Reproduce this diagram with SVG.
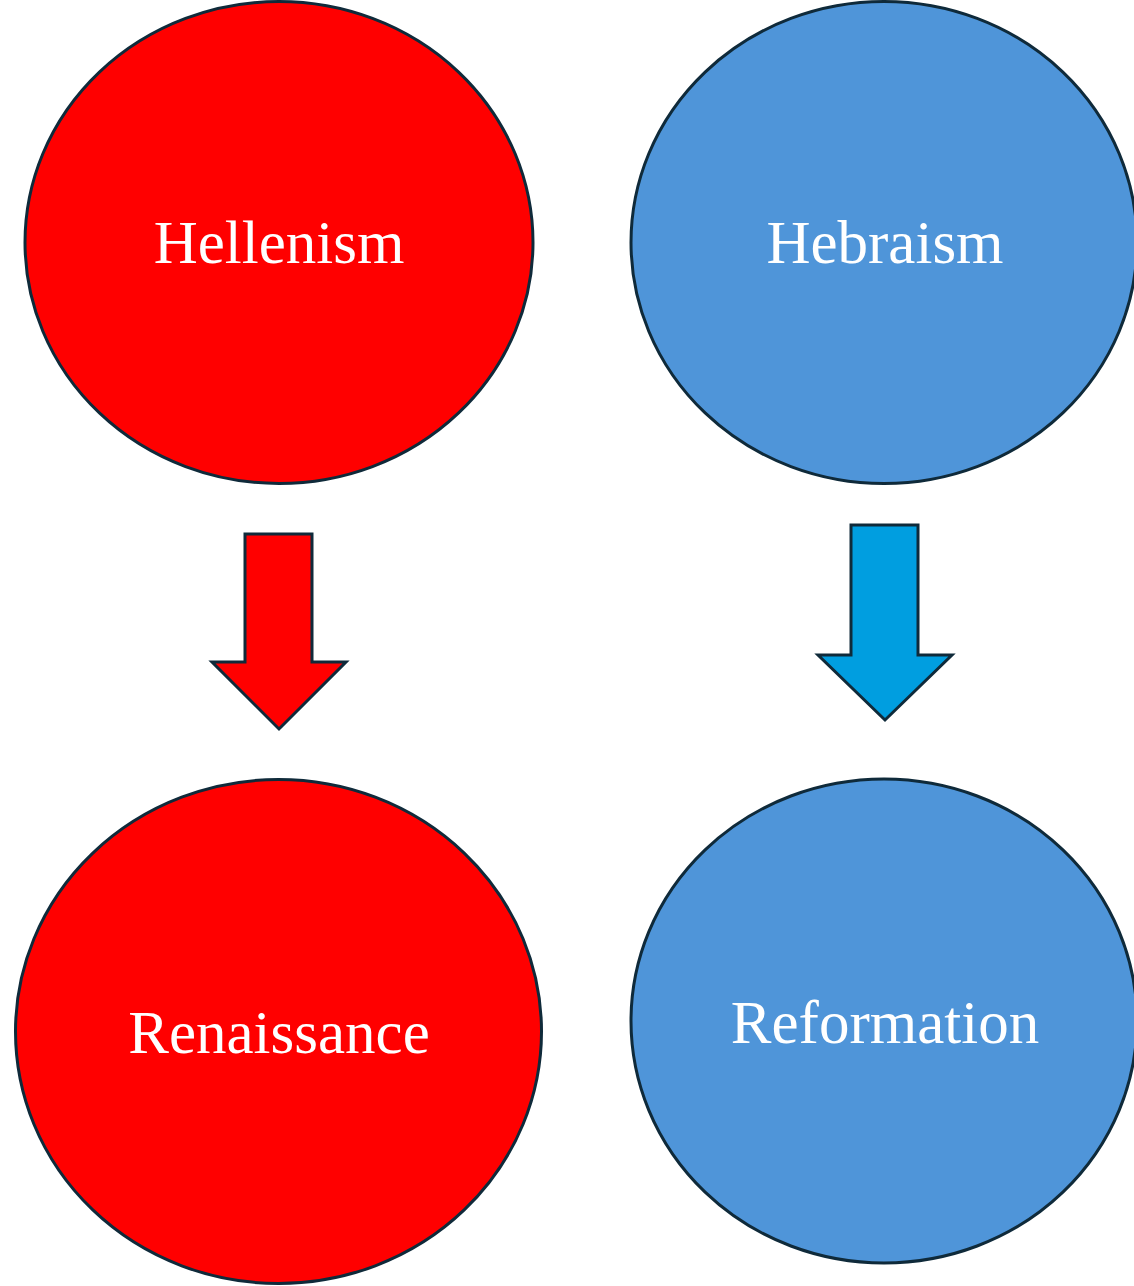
<svg xmlns="http://www.w3.org/2000/svg" width="1134" height="1286" viewBox="0 0 1134 1286">
<style>
.red{fill:#ff0000;stroke:#0f2a3a;stroke-width:3}
.blue{fill:#4f95d9;stroke:#0f2a3a;stroke-width:3}
.arrowB{fill:#009ee0;stroke:#0f2a3a;stroke-width:3;stroke-linejoin:miter}
.lbl{font-family:"Liberation Serif","Times New Roman",serif;font-size:61px;fill:#ffffff;text-anchor:middle}
</style>
<rect width="1134" height="1286" fill="#ffffff"/>
<g id="hellenism">
<ellipse class="red" cx="279" cy="242.5" rx="254" ry="241"/>
<text class="lbl" x="279" y="263">Hellenism</text>
</g>
<g id="hebraism">
<ellipse class="blue" cx="884" cy="242.5" rx="253" ry="241"/>
<text class="lbl" x="885" y="263">Hebraism</text>
</g>
<g id="renaissance">
<ellipse class="red" cx="278.5" cy="1031.5" rx="263" ry="252"/>
<text class="lbl" x="279" y="1053">Renaissance</text>
</g>
<g id="reformation">
<ellipse class="blue" cx="884" cy="1021" rx="253" ry="242"/>
<text class="lbl" x="885" y="1043">Reformation</text>
</g>
<g id="connectors">
<path class="red" d="M245 534 H312 V662 H346 L279 729 L212 662 H245 Z"/>
<path class="arrowB" d="M851 525 H918 V655 H952 L885 720 L818 655 H851 Z"/>
</g>
</svg>
